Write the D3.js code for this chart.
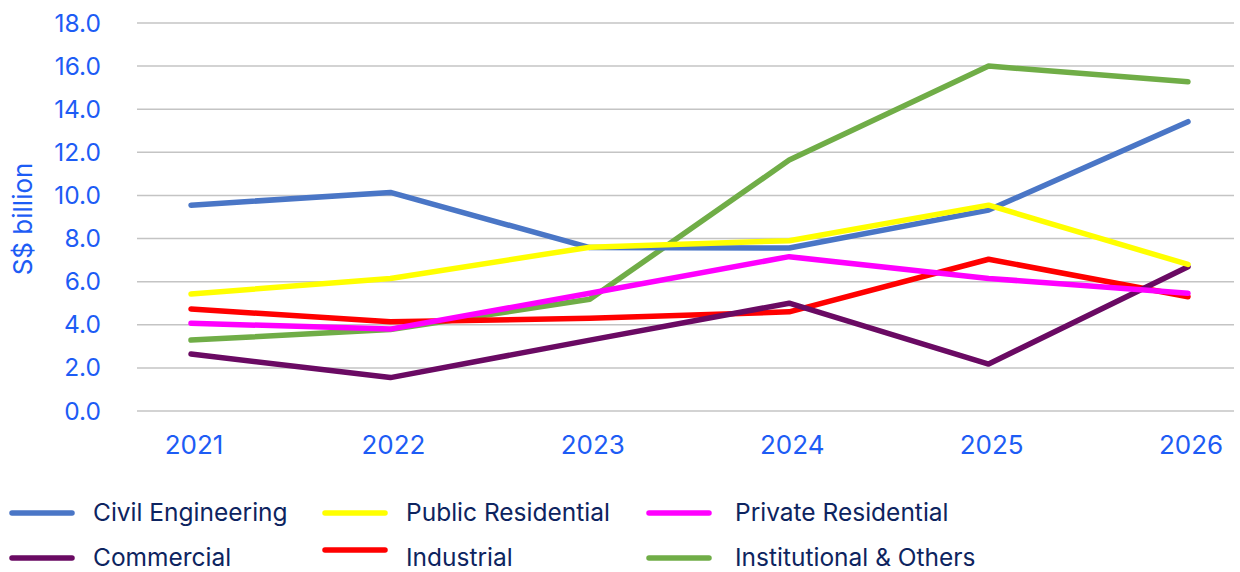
<!DOCTYPE html>
<html>
<head>
<meta charset="utf-8">
<script src="https://cdn.jsdelivr.net/npm/d3@7"></script>
<style>
    body { margin: 0; background: #fff; }
    svg { display: block; font-family: Inter, 'Noto Sans', sans-serif; }
</style>
</head>
<body>
<svg id="chart"></svg>
<script>
const years = ['2021', '2022', '2023', '2024', '2025', '2026'];
const yTicks = [0, 2, 4, 6, 8, 10, 12, 14, 16, 18];

const civilEngineering = [9.55, 10.14, 7.58, 7.56, 9.32, 13.42];
const publicResidential = [5.43, 6.15, 7.6, 7.9, 9.55, 6.8];
const privateResidential = [4.07, 3.8, 5.46, 7.16, 6.15, 5.46];
const commercial = [2.64, 1.55, 3.29, 5.0, 2.18, 6.69];
const industrial = [4.73, 4.14, 4.3, 4.6, 7.04, 5.3];
const institutional = [3.29, 3.78, 5.18, 11.64, 16.0, 15.27];

// legend order (row by row)
const legendItems = [
    { name: 'Civil Engineering', color: '#4a76c6', values: civilEngineering },
    { name: 'Public Residential', color: '#ffff00', values: publicResidential },
    { name: 'Private Residential', color: '#ff00ff', values: privateResidential },
    { name: 'Commercial', color: '#6a0a63', values: commercial },
    { name: 'Industrial', color: '#ff0000', values: industrial },
    { name: 'Institutional & Others', color: '#70ad47', values: institutional },
];

// draw order, bottom to top
const drawOrder = ['Institutional & Others', 'Industrial', 'Commercial', 'Civil Engineering', 'Private Residential', 'Public Residential'];

const width = 1240;
const height = 572;
const grid = { left: 137, right: 1234 };

const svg = d3.select('#chart').attr('width', width).attr('height', height);

const x = d3.scalePoint().domain(years).range([191, 1188]);
const y = d3.scaleLinear().domain([0, 18]).range([411, 23]);

// gridlines
svg.append('g')
    .selectAll('line')
    .data(yTicks)
    .enter()
    .append('line')
    .attr('x1', grid.left)
    .attr('x2', grid.right)
    .attr('y1', d => y(d))
    .attr('y2', d => y(d))
    .attr('stroke', '#c4c4c4')
    .attr('stroke-width', 1.5);

// y tick labels
svg.append('g')
    .selectAll('text')
    .data(yTicks)
    .enter()
    .append('text')
    .attr('x', 101)
    .attr('y', d => y(d))
    .attr('dy', '0.35em')
    .attr('text-anchor', 'end')
    .attr('fill', '#1d5cf5')
    .attr('font-size', '24.5px')
    .text(d => d.toFixed(1));

// x tick labels
svg.append('g')
    .selectAll('text')
    .data(years)
    .enter()
    .append('text')
    .attr('x', d => x(d) + 3)
    .attr('y', 454)
    .attr('text-anchor', 'middle')
    .attr('fill', '#1d5cf5')
    .attr('font-size', '26px')
    .text(d => d);

// y axis title
svg.append('text')
    .attr('transform', 'translate(32, 219) rotate(-90)')
    .attr('text-anchor', 'middle')
    .attr('fill', '#1d5cf5')
    .attr('font-size', '26px')
    .text('S$ billion');

const lineGen = d3
    .line()
    .x((d, i) => x(years[i]))
    .y(d => y(d));

svg.append('g')
    .selectAll('path')
    .data(drawOrder.map(n => legendItems.find(s => s.name === n)))
    .enter()
    .append('path')
    .attr('d', d => lineGen(d.values))
    .attr('fill', 'none')
    .attr('stroke', d => d.color)
    .attr('stroke-width', 5.5)
    .attr('stroke-linecap', 'round')
    .attr('stroke-linejoin', 'round');

// legend
const legendCols = [12, 325, 649];
const legendTextOffset = [81, 81, 86];
const legendRows = [513, 558];

const legend = svg.append('g')
    .selectAll('g')
    .data(legendItems)
    .enter()
    .append('g')
    .attr('transform', (d, i) => `translate(${legendCols[i % 3]}, ${legendRows[Math.floor(i / 3)]})`);

legend.append('line')
    .attr('x1', 0)
    .attr('x2', 60)
    .attr('y1', d => (d.name === 'Industrial' ? -8 : 0))
    .attr('y2', d => (d.name === 'Industrial' ? -8 : 0))
    .attr('stroke', d => d.color)
    .attr('stroke-width', 5.5)
    .attr('stroke-linecap', 'round');

legend.append('text')
    .attr('x', (d, i) => legendTextOffset[i % 3])
    .attr('y', 8)
    .attr('fill', '#0d2460')
    .attr('font-size', '24.5px')
    .text(d => d.name);
</script>
</body>
</html>
